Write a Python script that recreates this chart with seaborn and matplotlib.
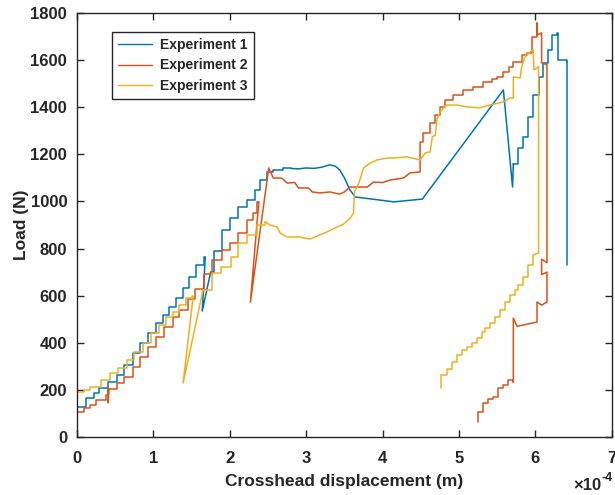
import numpy as np
import pandas as pd
import matplotlib
matplotlib.use("Agg")
import matplotlib.pyplot as plt
import seaborn as sns

# ---------------- data (x in units of 1e-4 m, y in N) ----------------
# Experiment 1
e1_s1_x = [0, 0.12, 0.22, 0.29, 0.41, 0.52, 0.62, 0.74, 0.82, 0.93, 1.04, 1.13, 1.21, 1.30, 1.39, 1.47, 1.56, 1.66, 1.68]
e1_s1_y = [127, 166, 187, 208, 233, 263, 306, 357, 399, 441, 484, 518, 552, 590, 632, 680, 730, 764, 764]
e1_l1_x = [1.68, 1.64, 1.75]
e1_l1_y = [764, 535, 700]
e1_s2_x = [1.75, 1.80, 1.90, 2.00, 2.11, 2.23, 2.33, 2.40, 2.49, 2.57, 2.70, 2.80]
e1_s2_y = [700, 790, 879, 930, 976, 1006, 1049, 1091, 1125, 1133, 1140, 1140]
e1_l2_x = [2.80, 2.90, 3.00, 3.10, 3.20, 3.31, 3.38, 3.44, 3.50, 3.57, 3.64, 4.15, 4.52, 5.58, 5.70, 5.71]
e1_l2_y = [1140, 1138, 1142, 1140, 1145, 1155, 1150, 1133, 1100, 1050, 1019, 998, 1010, 1473, 1061, 1160]
e1_s3_x = [5.71, 5.77, 5.84, 5.90, 5.97, 6.04, 6.10, 6.16, 6.22, 6.28, 6.29, 6.41]
e1_s3_y = [1160, 1227, 1274, 1358, 1452, 1528, 1588, 1643, 1706, 1715, 1600, 1590]
e1_l3_x = [6.41, 6.41]
e1_l3_y = [1590, 730]

# Experiment 2
e2_s1_x = [0, 0.09, 0.17, 0.25, 0.38, 0.41]
e2_s1_y = [106, 123, 136, 157, 178, 178]
e2_l1_x = [0.41, 0.41, 0.41, 0.42]
e2_l1_y = [178, 210, 145, 205]
e2_s2_x = [0.42, 0.52, 0.62, 0.74, 0.82, 0.93, 1.04, 1.14, 1.26, 1.34, 1.45, 1.54, 1.66, 1.77, 1.90, 2.00, 2.11, 2.23, 2.30, 2.36, 2.38]
e2_s2_y = [205, 229, 255, 297, 340, 382, 424, 467, 509, 539, 585, 630, 690, 751, 794, 823, 866, 921, 951, 998, 998]
e2_l2_x = [2.38, 2.27, 2.51, 2.57, 2.68, 2.75, 2.85, 2.90, 3.03, 3.08, 3.18, 3.31, 3.44, 3.50, 3.57, 3.80, 3.88, 4.00, 4.10, 4.27, 4.36, 4.49, 4.49]
e2_l2_y = [998, 573, 1142, 1099, 1099, 1078, 1080, 1057, 1057, 1040, 1036, 1040, 1031, 1040, 1061, 1061, 1082, 1080, 1091, 1099, 1121, 1125, 1250]
e2_s3_x = [4.49, 4.53, 4.62, 4.69, 4.75, 4.82, 4.92, 5.05, 5.18, 5.31, 5.43, 5.50, 5.58, 5.65, 5.71, 5.82, 5.89, 5.95, 6.02]
e2_s3_y = [1250, 1290, 1333, 1367, 1401, 1431, 1452, 1473, 1486, 1507, 1520, 1528, 1549, 1570, 1592, 1622, 1630, 1698, 1706]
e2_l3_x = [6.02, 6.02, 6.02, 6.08, 6.08, 6.15, 6.15, 6.08, 6.08, 6.15, 6.15, 6.08, 6.02, 6.02, 5.76, 5.71, 5.71]
e2_l3_y = [1706, 1757, 1706, 1715, 1588, 1580, 740, 755, 690, 700, 573, 560, 573, 488, 470, 505, 233]
e2_l4_x = [5.25, 5.25]
e2_l4_y = [64, 106]
e2_s4_x = [5.25, 5.31, 5.38, 5.44, 5.51, 5.58, 5.64, 5.71]
e2_s4_y = [106, 144, 160, 170, 208, 221, 242, 233]

# Experiment 3
e3_s1_x = [0, 0.09, 0.17, 0.32, 0.43, 0.54, 0.65, 0.75, 0.87, 0.97, 1.08, 1.17, 1.26, 1.34, 1.43, 1.50, 1.52]
e3_s1_y = [191, 200, 212, 242, 272, 293, 327, 361, 399, 441, 475, 509, 531, 560, 590, 598, 594]
e3_l1_x = [1.52, 1.39, 1.65]
e3_l1_y = [594, 229, 624]
e3_s2_x = [1.65, 1.77, 1.88, 2.01, 2.11, 2.23, 2.36, 2.46]
e3_s2_y = [624, 696, 722, 764, 823, 857, 900, 913]
e3_l2_x = [2.46, 2.53, 2.62, 2.66, 2.75, 2.92, 3.05, 3.14, 3.27, 3.40, 3.49, 3.58, 3.62, 3.63, 3.69, 3.75, 3.84, 3.93,
           4.06, 4.14, 4.32, 4.49, 4.56, 4.62, 4.65, 4.69, 4.71, 4.75, 4.84, 4.97, 5.10, 5.27, 5.40, 5.58, 5.67, 5.71,
           5.71, 5.80, 5.82, 5.86, 5.93, 5.97, 5.98, 6.04, 6.04, 5.97]
e3_l2_y = [913, 900, 891, 866, 849, 849, 840, 853, 870, 891, 904, 930, 951, 1040, 1078, 1142, 1163, 1176,
           1184, 1184, 1189, 1176, 1206, 1210, 1274, 1282, 1346, 1380, 1409, 1409, 1401, 1397, 1409, 1422, 1439, 1439,
           1528, 1524, 1571, 1613, 1634, 1643, 1558, 1571, 781, 773]
e3_l3_x = [4.77, 4.77]
e3_l3_y = [208, 263]
e3_s3_x = [4.77, 4.84, 4.91, 4.97, 5.04, 5.10, 5.17, 5.24, 5.30, 5.34, 5.41, 5.47, 5.54, 5.60, 5.67, 5.73, 5.77, 5.84, 5.90, 5.97]
e3_s3_y = [263, 290, 318, 348, 369, 382, 399, 420, 446, 463, 484, 509, 539, 573, 603, 624, 645, 679, 730, 773]

labels = ["Experiment 1", "Experiment 2", "Experiment 3"]
colors = {"Experiment 1": "#0072BD", "Experiment 2": "#D95319", "Experiment 3": "#EDB120"}

x_ticks = [0, 1, 2, 3, 4, 5, 6, 7]
y_ticks = [0, 200, 400, 600, 800, 1000, 1200, 1400, 1600, 1800]


def stairs(xs, ys):
    """Step-post rendering of step data (corners only, no new values)."""
    ox, oy = [], []
    for i in range(len(xs) - 1):
        ox += [xs[i], xs[i + 1]]
        oy += [ys[i], ys[i]]
    ox.append(xs[-1]); oy.append(ys[-1])
    return ox, oy


segments = {
    "Experiment 1": [("s", e1_s1_x, e1_s1_y), ("l", e1_l1_x, e1_l1_y), ("s", e1_s2_x, e1_s2_y),
                     ("l", e1_l2_x, e1_l2_y), ("s", e1_s3_x, e1_s3_y), ("l", e1_l3_x, e1_l3_y)],
    "Experiment 2": [("s", e2_s1_x, e2_s1_y), ("l", e2_l1_x, e2_l1_y), ("s", e2_s2_x, e2_s2_y),
                     ("l", e2_l2_x, e2_l2_y), ("s", e2_s3_x, e2_s3_y), ("l", e2_l3_x, e2_l3_y),
                     ("l", e2_l4_x, e2_l4_y), ("s", e2_s4_x, e2_s4_y)],
    "Experiment 3": [("s", e3_s1_x, e3_s1_y), ("l", e3_l1_x, e3_l1_y), ("s", e3_s2_x, e3_s2_y),
                     ("l", e3_l2_x, e3_l2_y), ("l", e3_l3_x, e3_l3_y), ("s", e3_s3_x, e3_s3_y)],
}

rows = []
uid = 0
for name in labels:
    for kind, xs, ys in segments[name]:
        if kind == "s":
            xs, ys = stairs(xs, ys)
        for k, (a, b) in enumerate(zip(xs, ys)):
            rows.append({"x": a, "y": b, "exp": name, "unit": uid, "order": k})
        uid += 1
df = pd.DataFrame(rows)

# ---------------- plot ----------------
sns.set_style("ticks")
plt.rcParams["font.family"] = ["Liberation Sans", "DejaVu Sans"]
plt.rcParams["font.weight"] = "bold"

fig = plt.figure(figsize=(6.15, 4.95), dpi=100)
ax = fig.add_axes([0.125, 0.117, 0.870, 0.857])

sns.lineplot(data=df, x="x", y="y", hue="exp", units="unit", estimator=None, sort=False,
             palette=colors, hue_order=labels, linewidth=1.1, ax=ax, legend=False)

ax.set_xlim(0, 7)
ax.set_ylim(0, 1800)
ax.set_xticks(x_ticks)
ax.set_yticks(y_ticks)
ax.set_xticklabels([str(t) for t in x_ticks], fontsize=12, fontweight="bold")
ax.set_yticklabels([str(t) for t in y_ticks], fontsize=12, fontweight="bold")
ax.tick_params(direction="in", length=5, width=1, top=True, right=True, colors="#262626")
ax.tick_params(axis="x", pad=10)
ax.tick_params(axis="y", pad=7)
for s in ax.spines.values():
    s.set_visible(True)
    s.set_color("#262626")
    s.set_linewidth(1)

ax.set_xlabel("Crosshead displacement (m)", fontsize=12.5, fontweight="bold", labelpad=6)
ax.set_ylabel("Load (N)", fontsize=12.5, fontweight="bold", labelpad=1)

# x-axis exponent label (bottom right)
fig.text(601 / 615, 1 - 485 / 495, "\u00d710", ha="right", va="center", fontsize=12, fontweight="bold")
fig.text(601 / 615, 1 - 478 / 495, "-4", ha="left", va="center", fontsize=9, fontweight="bold")

handles = [plt.Line2D([], [], color=colors[n], lw=1.0) for n in labels]
leg = ax.legend(handles, labels, loc="upper left", bbox_to_anchor=(0.065, 0.955), frameon=True,
                fancybox=False, edgecolor="#262626", framealpha=1, borderaxespad=0,
                prop={"weight": "bold", "size": 10}, handlelength=2.45, handletextpad=0.6,
                labelspacing=0.45, borderpad=0.45)
leg.get_frame().set_linewidth(1)

fig.savefig("out.png", dpi=100)
